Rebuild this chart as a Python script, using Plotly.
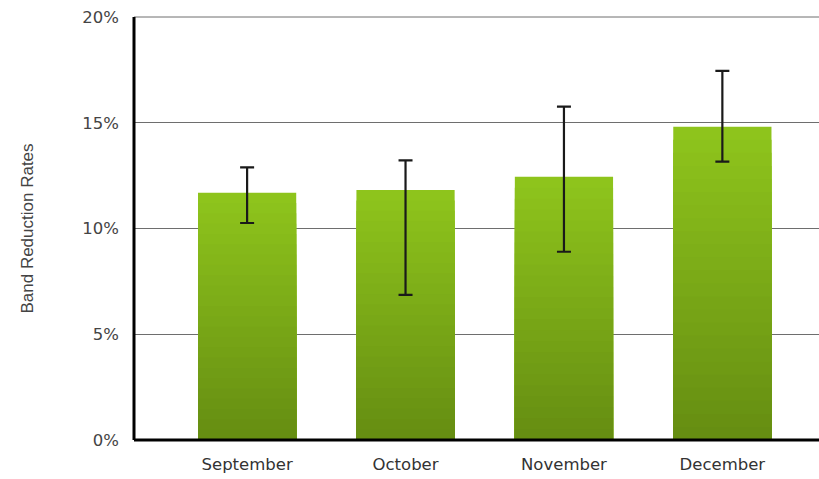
import plotly.graph_objects as go

months = ["September", "October", "November", "December"]
rates = [11.69, 11.82, 12.45, 14.81]
err_plus = [1.20, 1.40, 3.31, 2.64]
err_minus = [1.43, 4.96, 3.55, 1.65]
y_ticks = [0, 5, 10, 15, 20]
y_tick_text = ["0%", "5%", "10%", "15%", "20%"]

top_rgb = (0x8e, 0xc4, 0x1c)
bot_rgb = (0x66, 0x8e, 0x12)
steps = 24

fig = go.Figure()
for i in range(steps):
    f = 1 - i / steps
    t = i / (steps - 1)
    c = tuple(round(top_rgb[k] + (bot_rgb[k] - top_rgb[k]) * t) for k in range(3))
    fig.add_trace(go.Bar(
        x=months, y=[r * f for r in rates],
        marker=dict(color="rgb(%d,%d,%d)" % c, line=dict(width=0)),
        width=0.62, hoverinfo="skip", showlegend=False,
    ))

fig.add_trace(go.Scatter(
    x=months, y=rates, mode="markers",
    marker=dict(size=1, color="rgba(0,0,0,0)"),
    error_y=dict(type="data", symmetric=False, array=err_plus, arrayminus=err_minus,
                 color="#1a1a1a", thickness=2.2, width=7),
    showlegend=False, hoverinfo="skip",
))

fig.update_layout(
    width=819, height=479,
    margin=dict(l=134, r=0, t=17, b=39),
    paper_bgcolor="white", plot_bgcolor="white",
    barmode="overlay",
    font=dict(family="DejaVu Sans, Arial, sans-serif", color="#333"),
    xaxis=dict(
        range=[-0.714, 3.61], showgrid=False, showline=False, zeroline=False,
        tickfont=dict(size=16.5, color="#333"), ticks="", ticklabelstandoff=12,
    ),
    yaxis=dict(
        range=[0, 20], tickvals=y_ticks, ticktext=y_tick_text,
        showgrid=True, gridcolor="#6e6e6e", gridwidth=1,
        showline=False, zeroline=False, ticklabeloverflow="allow",
        tickfont=dict(size=16.5, color="#444"), ticks="", ticklabelstandoff=14,
        title=dict(text="Band Reduction Rates",
                   font=dict(family="Liberation Sans, Arial, sans-serif", size=17, color="#444"),
                   standoff=44),
    ),
    shapes=[
        dict(type="line", xref="paper", yref="paper", x0=0, x1=1, y0=1, y1=1,
             line=dict(color="#6e6e6e", width=1)),
        dict(type="line", xref="paper", yref="paper", x0=0, x1=0, y0=0, y1=1,
             line=dict(color="black", width=3)),
        dict(type="line", xref="paper", yref="paper", x0=0, x1=1, y0=0, y1=0,
             line=dict(color="black", width=3)),
    ],
)

fig.write_html("out.html", config={"displayModeBar": False},
               post_script="document.body.style.margin='0';document.body.style.overflow='hidden';")
